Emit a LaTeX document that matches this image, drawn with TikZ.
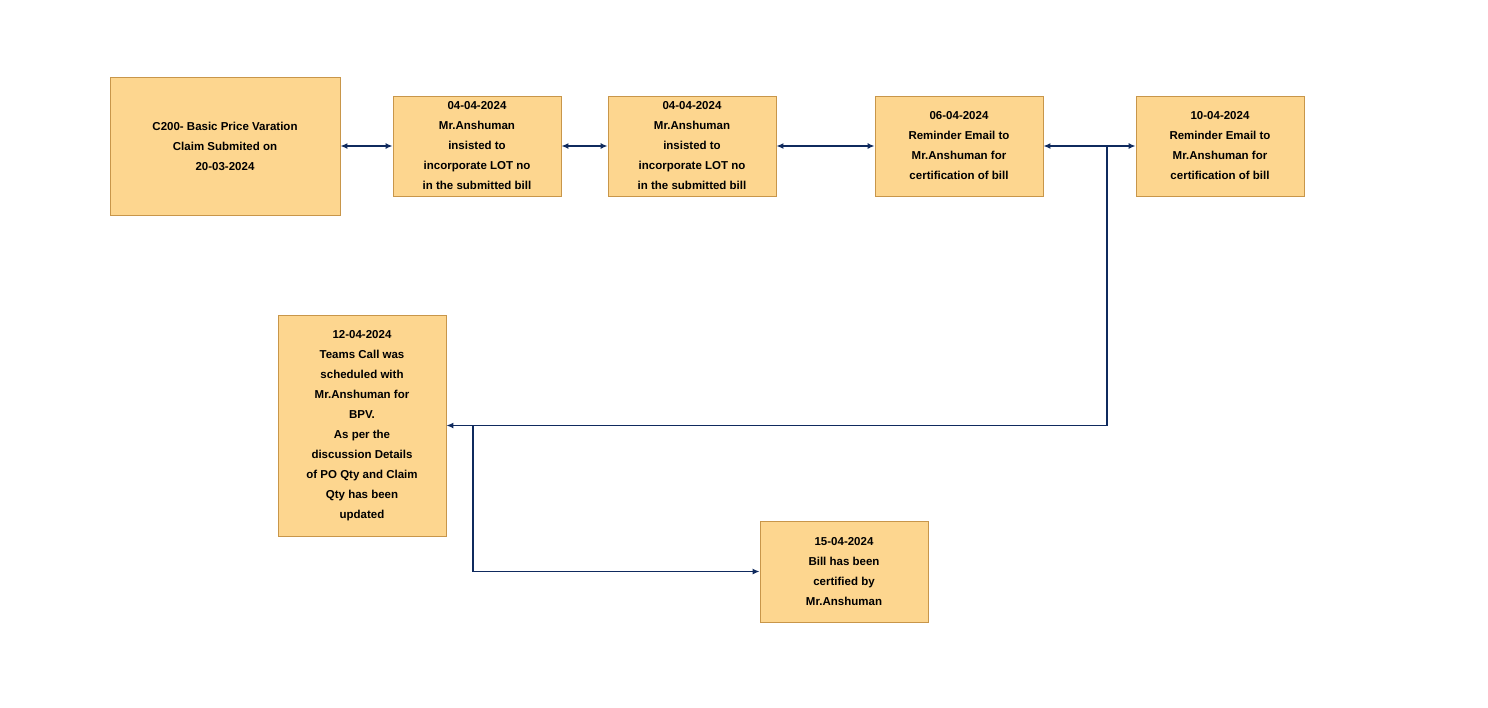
\documentclass[tikz,border=0pt]{standalone}
\usepackage{fontspec}
\setmainfont{Liberation Sans}
\usetikzlibrary{arrows.meta}
\definecolor{boxfill}{HTML}{FDD68F}
\definecolor{boxline}{HTML}{C8964A}
\definecolor{conn}{HTML}{0F2A5E}
\tikzset{
  card/.style={draw=boxline, fill=boxfill, line width=0.8pt, align=center, font=\bfseries\fontsize{11.5}{20}\selectfont, inner sep=0pt},
  link/.style={draw=conn, line width=1.5pt, -{Latex[length=7pt,width=6pt]}},
  blink/.style={draw=conn, line width=1.5pt, {Latex[length=7pt,width=6pt]}-{Latex[length=7pt,width=6pt]}}
}
\begin{document}
\begin{tikzpicture}[x=1pt,y=-1pt]
\useasboundingbox (0,0) rectangle (1488,707);
\node[card, minimum width=230pt, minimum height=138pt] (a) at (225,146) {C200- Basic Price Varation\\Claim Submited on\\20-03-2024};
\node[card, minimum width=168pt, minimum height=100pt] (b) at (477,146) {04-04-2024\\Mr.Anshuman\\insisted to\\incorporate LOT no\\in the submitted bill};
\node[card, minimum width=168pt, minimum height=100pt] (c) at (692,146) {04-04-2024\\Mr.Anshuman\\insisted to\\incorporate LOT no\\in the submitted bill};
\node[card, minimum width=168pt, minimum height=100pt] (d) at (959,146) {06-04-2024\\Reminder Email to\\Mr.Anshuman for\\certification of bill};
\node[card, minimum width=168pt, minimum height=100pt] (e) at (1220,146) {10-04-2024\\Reminder Email to\\Mr.Anshuman for\\certification of bill};
\node[card, minimum width=168pt, minimum height=221pt] (f) at (362,425.5) {12-04-2024\\Teams Call was\\scheduled with\\Mr.Anshuman for\\BPV.\\As per the\\discussion Details\\of PO Qty and Claim\\Qty has been\\updated};
\node[card, minimum width=168pt, minimum height=101pt] (g) at (844,571.5) {15-04-2024\\Bill has been\\certified by\\Mr.Anshuman};
\coordinate (j1) at (1107,146);
\coordinate (j2) at (473,425);
\draw[blink] (a) -- (b);
\draw[blink] (b) -- (c);
\draw[blink] (c) -- (d);
\draw[blink] (d) -- (e);
\draw[link] (j1) |- (f.east);
\draw[link] (j2) |- (g.west);
\end{tikzpicture}
\end{document}
